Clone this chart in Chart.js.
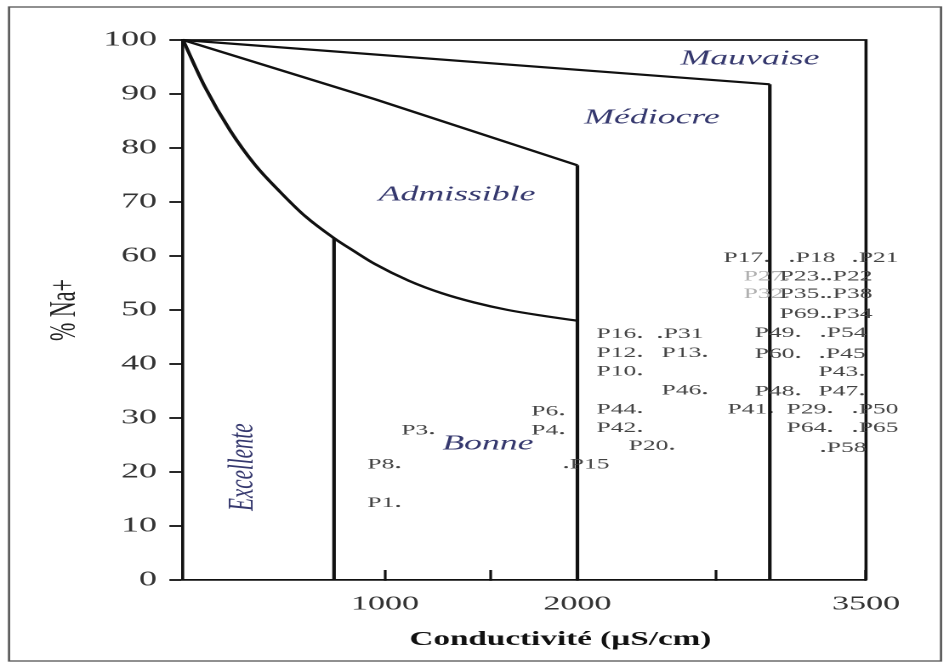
<!DOCTYPE html>
<html lang="fr">
<head>
<meta charset="utf-8">
<title>Diagramme de Wilcox</title>
<script src="https://cdn.jsdelivr.net/npm/chart.js@4.4.1/dist/chart.umd.min.js"></script>
<style>
  html, body { margin: 0; padding: 0; background: #fff; }
  #wilcox { display: block; }
</style>
</head>
<body>
<!-- the drawing is laid out narrow and widened to the page width -->
<canvas id="wilcox" width="558" height="668" style="width:949px;height:668px"></canvas>
<script>
// ---- axes ----
const xTickValues = [1000, 1550, 2000, 2720, 3500];
const xTickLabels = ['1000', '', '2000', '', '3500'];
const yTickValues = [0, 10, 20, 30, 40, 50, 60, 70, 80, 90, 100];
const xAxisTitle = 'Conductivité (µS/cm)';
const yAxisTitle = '% Na+';

// ---- class limits (conductivity in µS/cm, % Na+) ----
const limitBonneX = [-50, 64, 194, 324, 454, 584, 735, 839, 948, 1125, 1296, 1463, 1639, 1826, 2000];
const limitBonneY = [100, 91.3, 83.3, 76.9, 71.9, 67.4, 63.3, 60.9, 58.5, 55.4, 53.1, 51.4, 50.0, 48.9, 48.0];
const limitAdmissibleX = [-50, 950, 2000];
const limitAdmissibleY = [100, 89.0, 76.8];
const limitMediocreX = [-50, 3000];
const limitMediocreY = [100, 91.8];
const verticalLimitX = [735, 2000, 3000];
const verticalLimitTop = [63.3, 76.8, 91.8];

// ---- zone names ----
const zoneNames = ['Excellente', 'Bonne', 'Admissible', 'Médiocre', 'Mauvaise'];
const zoneConductivity = [262, 1535, 1374, 2388, 2897];
const zoneSodium = [20.9, 25.2, 71.3, 85.6, 96.5];

// ---- water samples ----
const sampleLabels = ['P17.', '.P18', '.P21', 'P27', 'P23.', '.P22', 'P32', 'P35.', '.P38',
  'P69.', '.P34', 'P49.', '.P54', 'P60.', '.P45', 'P43.', 'P48.', 'P47.', 'P41.', 'P29.',
  '.P50', 'P64.', '.P65', '.P58', 'P16.', '.P31', 'P12.', 'P13.', 'P10.', 'P46.', 'P44.',
  'P42.', 'P20.', '.P15', 'P6.', 'P4.', 'P3.', 'P8.', 'P1.'];
const sampleConductivity = [2985, 3115, 3443, 3090, 3277, 3308, 3090, 3277, 3308,
  3277, 3308, 3147, 3277, 3147, 3272, 3479, 3147, 3479, 3006, 3313,
  3443, 3313, 3443, 3277, 2325, 2429, 2325, 2663, 2325, 2663, 2325,
  2325, 2492, 1941, 1920, 1920, 1244, 1068, 1068];
const sampleSodium = [59.1, 59.1, 59.1, 55.7, 55.7, 55.7, 52.4, 52.4, 52.4,
  48.7, 48.7, 45.2, 45.2, 41.3, 41.3, 38.0, 34.4, 34.4, 31.1, 31.1,
  31.1, 27.6, 27.6, 23.9, 45.0, 45.0, 41.5, 41.5, 38.1, 34.6, 31.1,
  27.6, 24.3, 20.9, 30.7, 27.2, 27.2, 20.9, 13.7];
const faintSamples = ['P27', 'P32'];

const toPoints = (xs, ys) => xs.map((v, i) => ({ x: v, y: ys[i] }));

const lineStyle = {
  showLine: true, pointRadius: 0, borderColor: '#111', borderWidth: 2.2,
  fill: false, clip: false
};

const datasets = [
  { ...lineStyle, data: toPoints(limitBonneX, limitBonneY), tension: 0.4, cubicInterpolationMode: 'monotone' },
  { ...lineStyle, data: toPoints(limitAdmissibleX, limitAdmissibleY) },
  { ...lineStyle, data: toPoints(limitMediocreX, limitMediocreY) },
  ...verticalLimitX.map((v, i) => ({ ...lineStyle, borderWidth: 2.1,
    data: [{ x: v, y: 0 }, { x: v, y: verticalLimitTop[i] }] }))
];
const samplesIndex = datasets.length;
datasets.push({
  data: toPoints(sampleConductivity, sampleSodium),
  showLine: false, clip: false,
  pointRadius: 1.1, pointHoverRadius: 1.1, borderWidth: 0,
  pointBackgroundColor: ctx => faintSamples.includes(sampleLabels[ctx.dataIndex]) ? '#b8b8b8' : '#444'
});

const wilcoxDecor = {
  id: 'wilcoxDecor',
  beforeDraw(chart) {
    const { ctx, width, height } = chart;
    ctx.save();
    ctx.fillStyle = '#fff';
    ctx.fillRect(0, 0, width, height);
    ctx.strokeStyle = '#555';
    ctx.lineWidth = 1.3;
    ctx.strokeRect(5.3, 7, 548, 654);
    ctx.restore();
  },
  afterDatasetsDraw(chart) {
    const { ctx, chartArea: a, scales: { x, y } } = chart;
    ctx.save();
    // upper and right sides of the plot box
    ctx.strokeStyle = '#111';
    ctx.lineWidth = 1.8;
    ctx.beginPath();
    ctx.moveTo(a.left, a.top);
    ctx.lineTo(a.right, a.top);
    ctx.lineTo(a.right, a.bottom);
    ctx.stroke();

    // x-axis title, set a little right of the plot centre
    ctx.fillStyle = '#111';
    ctx.font = 'bold 19.5px "Liberation Serif"';
    ctx.textAlign = 'center';
    ctx.textBaseline = 'middle';
    ctx.fillText(xAxisTitle, x.getPixelForValue(2000) - 10, 640);

    // zone names
    ctx.fillStyle = '#35386e';
    zoneNames.forEach((name, i) => {
      const px = x.getPixelForValue(zoneConductivity[i]);
      const py = y.getPixelForValue(zoneSodium[i]);
      ctx.save();
      ctx.translate(px, py);
      if (name === 'Excellente') ctx.rotate(-Math.PI / 2);
      ctx.font = 'italic 21px "Liberation Serif"';
      ctx.fillText(name, 0, 0);
      ctx.restore();
    });

    // sample names next to their dots
    const meta = chart.getDatasetMeta(samplesIndex);
    ctx.font = '15px "Liberation Serif"';
    ctx.textBaseline = 'alphabetic';
    meta.data.forEach((pt, i) => {
      const label = sampleLabels[i];
      ctx.fillStyle = faintSamples.includes(label) ? '#b0b0b0' : '#444';
      if (label.startsWith('.')) {
        ctx.textAlign = 'left';
        ctx.fillText(label.slice(1), pt.x + 2.2, pt.y + 1.2);
      } else {
        ctx.textAlign = 'right';
        ctx.fillText(label.replace(/\.$/, ''), pt.x - 2.2, pt.y + 1.2);
      }
    });
    ctx.restore();
  }
};

new Chart(document.getElementById('wilcox'), {
  type: 'scatter',
  data: { datasets },
  plugins: [wilcoxDecor],
  options: {
    responsive: false,
    devicePixelRatio: 2,
    animation: false,
    layout: { padding: { left: 0, right: 48.8, top: 40, bottom: 0 } },
    plugins: { legend: { display: false }, tooltip: { enabled: false } },
    scales: {
      x: {
        type: 'linear', min: -50, max: 3500,
        afterBuildTicks: s => { s.ticks = xTickValues.map(v => ({ value: v })); },
        afterFit: s => { s.height = 88; },
        grid: { drawOnChartArea: false, drawTicks: true, tickLength: -10, tickWidth: 1.6, tickColor: '#111' },
        border: { display: true, color: '#111', width: 1.8 },
        ticks: {
          callback: (v, i) => xTickLabels[i],
          autoSkip: false, maxRotation: 0, padding: 22, color: '#333',
          font: { family: 'Liberation Serif', size: 20 }
        },
        title: { display: false, text: xAxisTitle }
      },
      y: {
        type: 'linear', min: 0, max: 100,
        afterBuildTicks: s => { s.ticks = yTickValues.map(v => ({ value: v })); },
        afterFit: s => { s.width = 107.6; },
        grid: { drawOnChartArea: false, drawTicks: true, tickLength: 8, tickWidth: 1.8, tickColor: '#111' },
        border: { display: true, color: '#111', width: 1.8 },
        ticks: { padding: 7.3, color: '#333', font: { family: 'Liberation Serif', size: 21 } },
        title: {
          display: true, text: yAxisTitle, color: '#222',
          font: { family: 'Liberation Serif', size: 22 },
          padding: { top: 25, bottom: 0 }
        }
      }
    }
  }
});
</script>
</body>
</html>
